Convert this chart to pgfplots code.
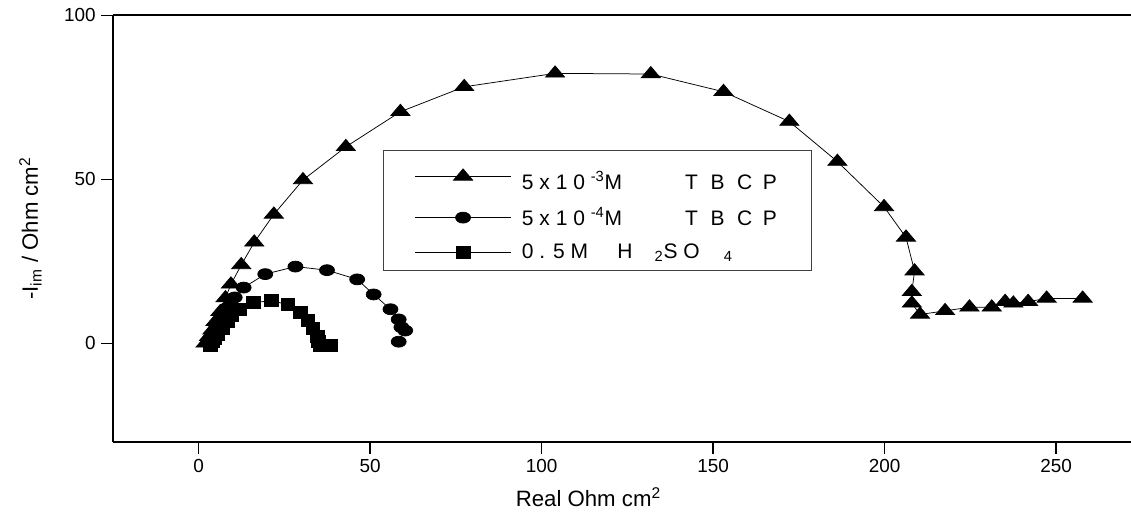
\documentclass[border=0pt]{standalone}
\usepackage{fontspec}
\setmainfont{Liberation Sans}
\usepackage{pgfplots}
\pgfplotsset{compat=1.18}
\usetikzlibrary{calc}

\begin{document}
\begin{tikzpicture}
\begin{axis}[
  width=678.7pt, height=284.3pt, scale only axis,
  xmin=-25, xmax=271.8, ymin=-30, ymax=100,
  xtick={0,50,100,150,200,250}, ytick={0,50,100},
  axis x line*=box, axis y line*=left,
  xtick pos=left, ytick pos=left,
  tick align=outside, major tick length=8pt,
  axis line style={line width=1.3pt},
  tick style={line width=1pt,black},
  ticklabel style={font=\fontsize{12.6}{14}\selectfont},
  /pgf/number format/assume math mode=true,
  label style={font=\fontsize{14.8}{17}\selectfont},
  xlabel={Real Ohm cm\textsuperscript{2}},
  ylabel={-I\textsubscript{im} / Ohm cm\textsuperscript{2}},
  xlabel style={at={(axis description cs:0.467,-0.13)},anchor=center},
  ylabel style={at={(axis description cs:-0.081,0.5)},anchor=center},
  legend style={at={(0.265,0.684)}, anchor=north west, draw=black!75, line width=0.6pt,
    font=\fontsize{14}{16}\selectfont, inner xsep=21pt, inner ysep=5pt, row sep=6.5pt,
    cells={anchor=west}},
  legend image code/.code={\draw[#1, mark repeat=2, mark phase=2] plot coordinates {(0pt,0pt) (32pt,0pt) (64pt,0pt)};},
]
\addplot[black, line width=0.5pt, mark=triangle*, mark size=5pt, mark options={xscale=1.47, fill=black, solid}] coordinates {
 (2.0,0) (3.0,2.0) (4.0,4.0) (4.9,6.6) (6.3,9.6) (7.8,13.8) (9.4,18.0) (12.4,23.9)
 (16.2,30.8) (21.9,39.3) (30.4,49.8) (42.9,59.9) (58.8,70.6) (77.4,78.2) (103.9,82.3)
 (131.8,82.1) (153.0,76.7) (172.2,67.6) (186.2,55.4) (199.8,41.6) (206.2,32.3)
 (208.7,22.0) (207.9,15.7) (207.9,12.2) (210.3,8.8) (217.6,9.9) (224.7,11.0)
 (231.2,11.0) (235.1,12.7) (237.5,12.2) (241.8,12.7) (247.2,13.7) (257.7,13.7)};
\addlegendentry{\hspace{5pt}\rule{0pt}{19pt}5 x 1 0 \textsuperscript{-3}M\hspace{3.0em}T\hspace{0.6em}B\hspace{0.6em}C\hspace{0.5em}P}
\addplot[black, line width=0.5pt, mark=*, mark size=5pt, mark options={yscale=0.73, fill=black, solid}] coordinates {
 (3.5,0) (4.0,2.0) (5.0,4.5) (6.5,7.5) (8.5,11.0) (10.5,14.0) (13.1,17.0) (19.4,21.1)
 (28.2,23.4) (37.4,22.3) (46.2,19.5) (51.0,14.9) (55.9,10.4) (58.3,7.3) (59.1,4.9)
 (60.2,3.9) (58.3,0.5)};
\addlegendentry{\hspace{5pt}5 x 1 0 \textsuperscript{-4}M\hspace{3.0em}T\hspace{0.6em}B\hspace{0.6em}C\hspace{0.5em}P}
\addplot[black, line width=0.5pt, mark=square*, mark size=4.6pt, mark options={yscale=0.87, fill=black, solid}] coordinates {
 (3.5,-0.5) (4.0,0.5) (4.6,1.5) (5.4,2.6) (6.8,4.6) (8.3,6.6) (9.7,8.6) (12.0,10.4)
 (16.0,12.4) (21.2,13.0) (26.0,11.8) (29.6,9.5) (31.8,6.9) (33.3,4.5) (34.6,2.2)
 (35.0,0.5) (35.3,-0.5) (36.5,-0.5) (38.4,-0.6)};
\addlegendentry{\hspace{5pt}0 . 5 M\hspace{1.4em}H\hspace{1.05em}\textsubscript{2}S O\hspace{1.15em}\textsubscript{4}}
\end{axis}
\pgfresetboundingbox
\path ($(current axis.south west)+(-75.3pt,-48.9pt)$) rectangle ($(current axis.north east)+(0pt,10.2pt)$);
\end{tikzpicture}
\end{document}
